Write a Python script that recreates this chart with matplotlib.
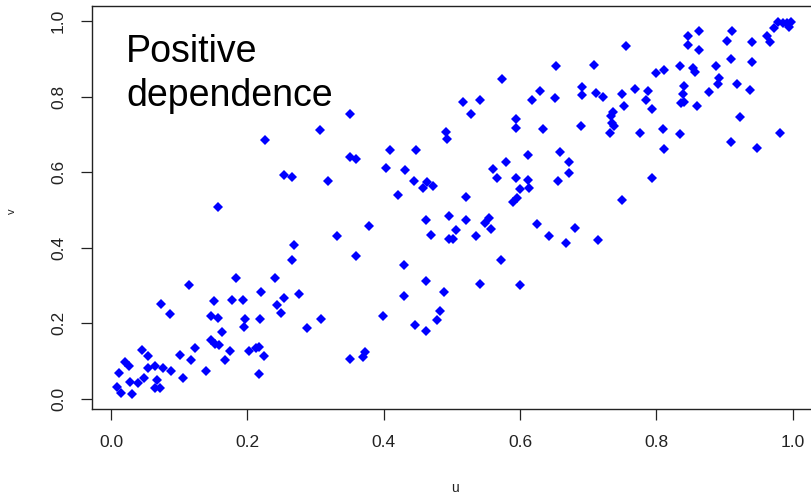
import matplotlib
matplotlib.use("Agg")
import matplotlib.pyplot as plt

plt.rcParams['font.family'] = ['Liberation Sans', 'DejaVu Sans']

# Pseudo-observations (u, v) with positive dependence
u = [0.269, 0.265, 0.184, 0.240, 0.115, 0.220, 0.276, 0.073, 0.151, 0.178,
     0.193, 0.254, 0.244, 0.086, 0.146, 0.157, 0.197, 0.195, 0.219, 0.250,
     0.308, 0.287, 0.163, 0.147, 0.152, 0.158, 0.123, 0.174, 0.203, 0.213,
     0.217, 0.225, 0.045, 0.054, 0.101, 0.118, 0.167, 0.021, 0.026, 0.054,
     0.065, 0.076, 0.088, 0.012, 0.140, 0.217, 0.049, 0.105, 0.067, 0.028,
     0.039, 0.009, 0.014, 0.031, 0.064, 0.072,
     0.306, 0.226, 0.254, 0.265, 0.318, 0.157, 0.332,
     0.653, 0.574, 0.629, 0.617, 0.651, 0.517, 0.542, 0.528, 0.351, 0.594,
     0.594, 0.634, 0.491, 0.493, 0.410, 0.448, 0.351, 0.359, 0.611, 0.659,
     0.672, 0.672, 0.579, 0.561, 0.403, 0.432, 0.444, 0.463, 0.457, 0.473,
     0.566, 0.594, 0.611, 0.600, 0.613, 0.655, 0.421, 0.521, 0.595, 0.589,
     0.378, 0.462, 0.496, 0.521, 0.506, 0.470, 0.496, 0.502, 0.535, 0.549,
     0.555, 0.557, 0.625, 0.643, 0.668, 0.681, 0.359, 0.572, 0.715, 0.430,
     0.462, 0.542, 0.600, 0.430, 0.489, 0.399, 0.483, 0.478, 0.446, 0.462,
     0.372, 0.369, 0.351,
     0.998, 0.992, 0.986, 0.979, 0.972, 0.994, 0.962, 0.966, 0.911, 0.903,
     0.941, 0.863, 0.847, 0.847, 0.863, 0.755, 0.708, 0.909, 0.941, 0.888,
     0.835, 0.853, 0.857, 0.811, 0.799, 0.892, 0.890, 0.918, 0.937, 0.841,
     0.839, 0.836, 0.840, 0.877, 0.860, 0.691, 0.691, 0.712, 0.721, 0.749,
     0.769, 0.787, 0.785, 0.752, 0.794, 0.736, 0.733, 0.735, 0.738, 0.732,
     0.689, 0.776, 0.809, 0.835, 0.811, 0.922, 0.909, 0.948, 0.981, 0.794,
     0.749]

v = [0.408, 0.368, 0.319, 0.319, 0.301, 0.283, 0.277, 0.251, 0.259, 0.261,
     0.261, 0.266, 0.247, 0.223, 0.219, 0.215, 0.210, 0.191, 0.212, 0.226,
     0.212, 0.187, 0.176, 0.155, 0.145, 0.142, 0.134, 0.126, 0.126, 0.134,
     0.138, 0.114, 0.130, 0.114, 0.116, 0.103, 0.103, 0.096, 0.087, 0.081,
     0.087, 0.081, 0.073, 0.069, 0.073, 0.065, 0.056, 0.056, 0.050, 0.043,
     0.041, 0.032, 0.016, 0.012, 0.028, 0.028,
     0.711, 0.686, 0.593, 0.586, 0.577, 0.509, 0.430,
     0.882, 0.846, 0.814, 0.792, 0.797, 0.785, 0.792, 0.754, 0.754, 0.740,
     0.717, 0.714, 0.705, 0.689, 0.659, 0.659, 0.639, 0.636, 0.646, 0.653,
     0.626, 0.597, 0.626, 0.608, 0.612, 0.605, 0.577, 0.573, 0.559, 0.562,
     0.584, 0.584, 0.579, 0.555, 0.558, 0.577, 0.540, 0.534, 0.531, 0.522,
     0.458, 0.473, 0.483, 0.473, 0.447, 0.434, 0.422, 0.422, 0.430, 0.466,
     0.478, 0.450, 0.462, 0.430, 0.412, 0.451, 0.377, 0.366, 0.419, 0.355,
     0.312, 0.305, 0.301, 0.273, 0.283, 0.219, 0.233, 0.208, 0.194, 0.180,
     0.124, 0.110, 0.105,
     0.998, 0.994, 0.996, 0.997, 0.983, 0.985, 0.961, 0.945, 0.974, 0.948,
     0.945, 0.974, 0.961, 0.937, 0.924, 0.934, 0.885, 0.899, 0.892, 0.881,
     0.881, 0.875, 0.866, 0.871, 0.863, 0.850, 0.834, 0.834, 0.818, 0.828,
     0.806, 0.783, 0.786, 0.811, 0.775, 0.825, 0.803, 0.810, 0.799, 0.806,
     0.821, 0.814, 0.791, 0.775, 0.767, 0.758, 0.749, 0.731, 0.721, 0.704,
     0.722, 0.704, 0.714, 0.700, 0.661, 0.747, 0.679, 0.664, 0.704, 0.585,
     0.526]

ticks = [0.0, 0.2, 0.4, 0.6, 0.8, 1.0]
tick_labels = ["0.0", "0.2", "0.4", "0.6", "0.8", "1.0"]

fig = plt.figure(figsize=(8.11, 4.96), dpi=100)
ax = fig.add_axes([0.1138, 0.1754, 0.8956, 0.8125])

ax.plot(u, v, linestyle='none', marker='D', markersize=4.6,
        markeredgewidth=0, color='#0000ff')

ax.set_xlim(-0.0274, 1.038)
ax.set_ylim(-0.0273, 1.040)

ax.set_xticks(ticks)
ax.set_xticklabels(tick_labels)
ax.set_yticks(ticks)
ax.set_yticklabels(tick_labels, rotation=90, va='center')

ax.tick_params(axis='both', direction='out', length=8, width=0.9,
               color='#222222', labelsize=12.5, labelcolor='#222222', pad=11)

for sp in ax.spines.values():
    sp.set_linewidth(1.0)
    sp.set_color('#222222')

ax.set_xlabel('u', fontsize=10, labelpad=22, color='#222222')
ax.set_ylabel('v', fontsize=8, color='#222222')
ax.yaxis.set_label_coords(-0.104, 0.49)

ax.text(0.022, 0.893, 'Positive', fontsize=27, ha='left', va='baseline',
        color='black')
ax.text(0.022, 0.775, 'dependence', fontsize=27, ha='left', va='baseline',
        color='black')

fig.savefig('out.png', dpi=100)
